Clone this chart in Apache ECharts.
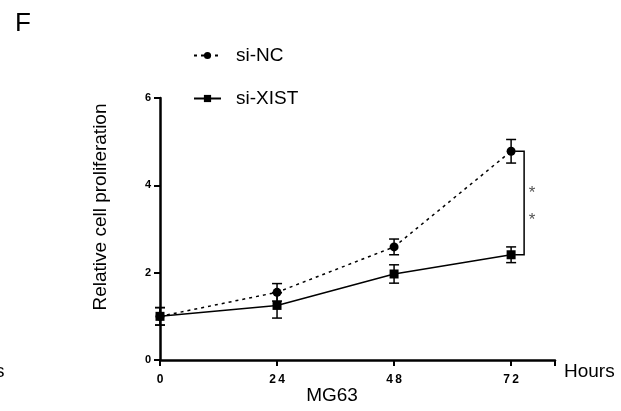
<!DOCTYPE html>
<html>
<head>
<meta charset="utf-8">
<script src="https://cdn.jsdelivr.net/npm/echarts@6/dist/echarts.min.js"></script>
<style>html,body{margin:0;padding:0;background:#fff}#c{width:621px;height:411px}</style>
</head>
<body>
<div id="c"></div>
<script>
var hours = [0, 24, 48, 72];
var tickLabels = ['0', '24', '48', '72'];
var ncMean = [1.00, 1.55, 2.59, 4.78];
var ncErr = [0.20, 0.20, 0.18, 0.27];
var xistMean = [1.00, 1.25, 1.97, 2.41];
var xistErr = [0.20, 0.29, 0.21, 0.18];
var seriesNames = ['si-NC', 'si-XIST'];
var yTicks = [0, 2, 4, 6];

var FONT = "'Liberation Sans', Arial, sans-serif";
var chart = echarts.init(document.getElementById('c'));

function errData(m, e) {
  return hours.map(function (h, i) { return [h, m[i] - e[i], m[i] + e[i]]; });
}
function errRender(params, api) {
  var x = api.value(0);
  var lo = api.coord([x, api.value(1)]);
  var hi = api.coord([x, api.value(2)]);
  var w = 5;
  var st = { stroke: '#000', lineWidth: 1.5 };
  return { type: 'group', children: [
    { type: 'line', shape: { x1: lo[0], y1: lo[1], x2: hi[0], y2: hi[1] }, style: st },
    { type: 'line', shape: { x1: lo[0] - w, y1: lo[1], x2: lo[0] + w, y2: lo[1] }, style: st },
    { type: 'line', shape: { x1: hi[0] - w, y1: hi[1], x2: hi[0] + w, y2: hi[1] }, style: st }
  ]};
}
var last = hours.length - 1;
var bracketData = [[hours[last], ncMean[last], xistMean[last]]];
function bracketRender(params, api) {
  var x = api.value(0);
  var a = api.coord([x, api.value(1)]);
  var b = api.coord([x, api.value(2)]);
  var bx = a[0] + 13;
  var mid = (a[1] + b[1]) / 2;
  return { type: 'group', children: [
    { type: 'polyline', shape: { points: [[a[0] + 4, a[1]], [bx, a[1]], [bx, b[1]], [a[0] + 4, b[1]]] },
      style: { stroke: '#000', lineWidth: 1.5, fill: null } },
    { type: 'text', style: { x: bx + 8, y: mid - 10, text: '*', fill: '#555', font: '17px ' + FONT, align: 'center', verticalAlign: 'middle' } },
    { type: 'text', style: { x: bx + 8, y: mid + 17, text: '*', fill: '#555', font: '17px ' + FONT, align: 'center', verticalAlign: 'middle' } }
  ]};
}

chart.setOption({
  animation: false,
  backgroundColor: '#fff',
  title: { text: 'F', left: 10, top: 6, textStyle: { fontSize: 26, fontWeight: 'normal', color: '#000', fontFamily: FONT } },
  legend: {
    orient: 'vertical', left: 188, top: 41, itemWidth: 27, itemHeight: 9, itemGap: 24,
    data: seriesNames,
    textStyle: { fontSize: 19, color: '#000', fontFamily: FONT, padding: [0, 0, 0, 10] }
  },
  grid: { left: 160, top: 98, right: 66, bottom: 51 },
  xAxis: {
    type: 'value', min: 0, max: 81, interval: 24,
    name: 'Hours', nameLocation: 'end', nameGap: 9,
    nameTextStyle: { fontSize: 19, color: '#000', fontFamily: FONT, verticalAlign: 'top', padding: [2, 0, 0, 0] },
    axisLine: { lineStyle: { color: '#000', width: 2.5 } },
    axisTick: { length: 6, lineStyle: { color: '#000', width: 2 } },
    axisLabel: { margin: 14, fontSize: 12, fontWeight: 'bold', color: '#000', fontFamily: FONT,
      formatter: function (v) { var i = hours.indexOf(v); return i < 0 ? '' : tickLabels[i].split('').join('\u2009'); } },
    splitLine: { show: false }
  },
  yAxis: {
    type: 'value', min: 0, max: 6, interval: 2,
    axisLine: { show: true, lineStyle: { color: '#000', width: 2.5 } },
    axisTick: { show: true, length: 6, lineStyle: { color: '#000', width: 2 } },
    axisLabel: { margin: 9, fontSize: 11, fontWeight: 'bold', color: '#000', fontFamily: FONT,
      formatter: function (v) { return yTicks.indexOf(v) < 0 ? '' : String(v); } },
    splitLine: { show: false }
  },
  graphic: [
    { type: 'text', x: 101, y: 207, rotation: Math.PI / 2, style: { text: 'Relative cell proliferation', font: '19px ' + FONT, fill: '#000', align: 'center', verticalAlign: 'middle' } },
    { type: 'text', x: 332, y: 396, style: { text: 'MG63', font: '19px ' + FONT, fill: '#000', align: 'center', verticalAlign: 'middle' } },
    { type: 'text', x: -5, y: 372, style: { text: 's', font: '19px ' + FONT, fill: '#000', align: 'left', verticalAlign: 'middle' } }
  ],
  series: [
    { name: seriesNames[0], type: 'line', data: hours.map(function (h, i) { return [h, ncMean[i]]; }),
      symbol: 'circle', symbolSize: 9, itemStyle: { color: '#000' },
      lineStyle: { color: '#000', width: 1.5, type: [3, 4] }, z: 3 },
    { name: seriesNames[1], type: 'line', data: hours.map(function (h, i) { return [h, xistMean[i]]; }),
      symbol: 'rect', symbolSize: 9, itemStyle: { color: '#000' },
      lineStyle: { color: '#000', width: 1.5, type: 'solid' }, z: 3 },
    { type: 'custom', renderItem: errRender, data: errData(ncMean, ncErr), z: 2, silent: true },
    { type: 'custom', renderItem: errRender, data: errData(xistMean, xistErr), z: 2, silent: true },
    { type: 'custom', renderItem: bracketRender, data: bracketData, z: 2, silent: true }
  ]
});
</script>
</body>
</html>
